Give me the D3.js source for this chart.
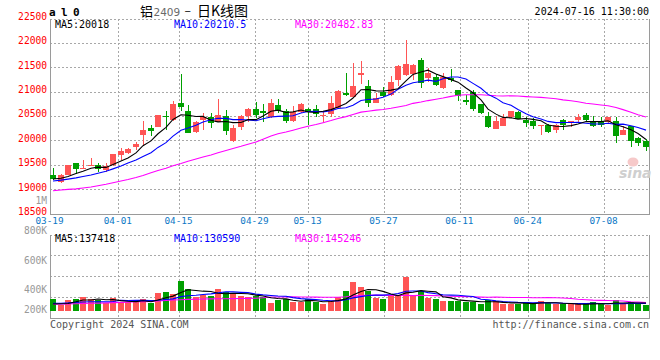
<!DOCTYPE html>
<html><head><meta charset="utf-8">
<script src="https://cdn.jsdelivr.net/npm/d3@7/dist/d3.min.js"></script>
<style>html,body{margin:0;padding:0;background:#fff;}svg{display:block;}</style>
</head><body>
<svg id="c" width="660" height="360"></svg>
<script>
// ---------------- data ----------------
const dates = ["03-19","03-20","03-21","03-22","03-25","03-26","03-27","03-28","03-29",
"04-01","04-02","04-03","04-08","04-09","04-10","04-11","04-12",
"04-15","04-16","04-17","04-18","04-19","04-22","04-23","04-24","04-25","04-26",
"04-29","04-30","05-06","05-07","05-08","05-09","05-10",
"05-13","05-14","05-15","05-16","05-17","05-20","05-21","05-22","05-23","05-24",
"05-27","05-28","05-29","05-30","05-31","06-03","06-04","06-05","06-06","06-07",
"06-11","06-12","06-13","06-14","06-17","06-18","06-19","06-20","06-21",
"06-24","06-25","06-26","06-27","06-28","07-01","07-02","07-03","07-04","07-05",
"07-08","07-09","07-10","07-11","07-12","07-15","07-16"];
const open  = [19290,19150,19300,19530,19430,19490,19495,19390,19493,19700,19735,19870,20110,20260,20280,20500,20418,20774,20605,20178,
20413,20488,20385,20495,19989,20283,20501,20645,20604,20488,20727,20604,20399,20590,20638,20645,20501,20535,20659,20973,
20884,21348,21116,20775,20986,20932,21239,21342,21355,21649,21287,21294,21082,21273,21034,20829,20986,20747,20501,20235,
20303,20474,20590,20419,20392,20296,20317,20221,20419,20351,20419,20529,20406,20406,20372,20406,20119,20303,20051,19982];
const high  = [19440,19320,19500,19535,19590,19640,19530,19530,19720,19837,19840,19972,20403,20315,20530,20603,20808,21370,20726,20400,
20556,20556,20850,20624,20317,20522,20672,20795,20747,20843,20843,20645,20706,20775,20672,20727,20604,20918,21034,21389,
21581,21628,21239,20966,21089,21321,21540,22059,21560,21697,21478,21355,21376,21464,21034,20932,21034,20747,20590,20501,
20542,20600,20600,20474,20460,20317,20337,20337,20440,20406,20542,20556,20508,20488,20488,20474,20303,20303,20078,20030];
const low   = [19185,19120,19290,19310,19405,19465,19360,19350,19480,19597,19720,19802,19905,20090,20270,20213,20397,20605,20144,20150,
20215,20262,20372,20106,19962,20215,20372,20453,20372,20454,20556,20351,20372,20556,20317,20488,20385,20488,20645,20918,
20863,21150,20693,20775,20898,20911,21116,21321,21239,21068,21205,21123,21055,21205,20816,20727,20604,20536,20262,20235,
20303,20460,20440,20283,20235,20119,20146,20146,20215,20269,20351,20406,20269,20269,20351,19941,20119,19873,19893,19777];
const close = [19200,19300,19493,19410,19440,19500,19410,19470,19712,19788,19820,19925,20213,20200,20520,20470,20745,20690,20157,20380,
20488,20351,20522,20194,20262,20501,20645,20522,20563,20761,20610,20399,20590,20747,20577,20549,20522,20761,21014,20932,
21116,21376,20775,20877,20918,21205,21526,21567,21546,21171,21389,21137,21294,21239,20911,20795,20645,20570,20283,20399,
20460,20600,20440,20351,20303,20317,20167,20317,20317,20392,20488,20419,20303,20324,20474,20090,20210,19990,19940,19860];
const volume = [211000,103000,193000,211000,247000,211000,186000,133000,229000,151000,151000,151000,216000,133000,319000,342000,301000,535000,385000,252000,
283000,265000,391000,337000,295000,259000,241000,270000,252000,139000,193000,211000,151000,162000,211000,162000,121000,175000,241000,360000,
517000,427000,355000,229000,211000,283000,270000,607000,283000,360000,230000,210000,175000,180000,180000,162000,162000,115000,190000,170000,
115000,115000,115000,160000,133000,170000,133000,115000,115000,115000,115000,118000,150000,130000,106000,190000,120000,155000,115000,107000];
// moving-average values before their window fills
const ma5Head  = [19208,19222,19260,19320];
const ma10Head = [19167,19185,19205,19230,19258,19290,19325,19365,19415];
const ma30Head = [18966,18982,18994,19005,19023,19044,19068,19099,19130,19167,19197,19238,19279,19335,19382,19429,19478,19526,19573,19618,
19659,19700,19745,19792,19833,19878,19921,19966,20025];
const volMa5Head  = [120000,125000,130000,160000];
const volMa10Head = [133000,135000,140000,150000,157000,160000,160000,162000,165000];
const volMa30Head = [115000,118000,122000,126000,130000,133000,136000,140000,145000,150000,155000,160000,164000,168000,175000,185000,193000,198000,203000,207000,
210000,212000,214000,216000,218000,220000,222000,225000,232000];

const priceTicks = [18500,19000,19500,20000,20500,21000,21500,22000,22500];
const tickDates = ["03-19","04-01","04-15","04-29","05-13","05-27","06-11","06-24","07-08"];
const volTicks = [1000000,800000,600000,400000,200000];
const volTickLabels = ["1M","800K","600K","400K","200K"];
const priceLegend = ["MA5:20018","MA10:20210.5","MA30:20482.83"];
const volLegend = ["MA5:137418","MA10:130590","MA30:145246"];
const maColors = ["#000000","#0000ff","#ff00ff"];
const titleCode = "a l 0";
const titleName = ["铝","2409","–","日K线图"];
const stamp = "2024-07-16 11:30:00";

// ---------------- layout ----------------
const L = 50, R = 649, PT = 18.5, PB = 213.5;
const VT = 234.5, VB = 317.5, VBASE = 310.7;
const UP = "#ff5555", DOWN = "#00a000", GRID = "#a8a8a8", AX = "#9a9a9a";
const MONO = "'DejaVu Sans Mono', monospace";

const svg = d3.select("#c");
const idx = d3.range(dates.length);

const x = d3.scaleBand().domain(dates).range([L, R]).paddingInner(0.2);
const gx = d3.scalePoint().domain(dates).range([L, 649.6]);
const y = d3.scaleLinear().domain([18500, 22500]).range([PB, PT]);
const vy = d3.scaleLinear().domain([0, 1000000]).range([VBASE, VBASE - 55.6]);
const vLabelY = d3.scaleLinear().domain([1000000, 400000]).range([200.7, 290]);

function movingAvg(vals, n, head) {
  return vals.map((v, i) => i < n - 1 ? head[i] : d3.mean(vals.slice(i - n + 1, i + 1)));
}
const px = v => Math.round(v) + 0.5;

// ---------------- header ----------------
svg.append("text").attr("x", 49).attr("y", 15.5)
  .attr("font-family", MONO).attr("font-size", 11).attr("font-weight", "bold")
  .attr("letter-spacing", -0.6).attr("fill", "#000").text(titleCode);
const tt = svg.append("g").attr("font-family", "'Noto Sans CJK SC', sans-serif").attr("fill", "#000");
tt.append("text").attr("x", 140).attr("y", 15.5).attr("font-size", 13).text(titleName[0]);
tt.append("text").attr("x", 153.5).attr("y", 15.5).attr("font-size", 10.5).attr("fill", "#6a6a6a")
  .attr("font-family", "'DejaVu Sans', sans-serif").text(titleName[1]);
tt.append("text").attr("x", 184.5).attr("y", 15).attr("font-size", 12).text(titleName[2]);
tt.append("text").attr("x", 197).attr("y", 15.5).attr("font-size", 14).text(titleName[3]);
svg.append("text").attr("x", 649).attr("y", 15).attr("text-anchor", "end")
  .attr("font-family", MONO).attr("font-size", 10).attr("fill", "#000").text(stamp);

// ---------------- price panel grid ----------------
const pg = svg.append("g").attr("shape-rendering", "crispEdges");
pg.selectAll("line.h").data(priceTicks.filter(t => t > 18500)).join("line")
  .attr("x1", L).attr("x2", R).attr("y1", d => px(y(d))).attr("y2", d => px(y(d)))
  .attr("stroke", GRID).attr("stroke-dasharray", "2,2");
pg.selectAll("line.v").data(tickDates.slice(1)).join("line")
  .attr("x1", d => px(gx(d))).attr("x2", d => px(gx(d))).attr("y1", PT).attr("y2", PB)
  .attr("stroke", GRID).attr("stroke-dasharray", "2,2");
pg.append("line").attr("x1", L + 0.5).attr("x2", L + 0.5).attr("y1", PT).attr("y2", PB + 0.5).attr("stroke", AX);
pg.append("line").attr("x1", R + 0.5).attr("x2", R + 0.5).attr("y1", PT).attr("y2", PB + 0.5).attr("stroke", AX);
pg.append("line").attr("x1", L).attr("x2", R + 1).attr("y1", px(PB)).attr("y2", px(PB)).attr("stroke", AX);

// watermark
const wm = svg.append("g");
wm.append("ellipse").attr("cx", 633).attr("cy", 162).attr("rx", 5.5).attr("ry", 4.5).attr("fill", "#f6c9c9");
wm.append("text").attr("x", 619).attr("y", 178).attr("font-family", "'DejaVu Sans', sans-serif")
  .attr("font-size", 14).attr("font-style", "italic").attr("font-weight", "bold").attr("fill", "#cfcfcf").text("sina");

// y axis labels (price)
const yAxis = svg.append("g").attr("transform", "translate(" + L + ",-2.2)")
  .call(d3.axisLeft(y).tickValues(priceTicks).tickSize(0).tickPadding(3).tickFormat(d3.format("d")));
yAxis.select(".domain").remove();
yAxis.selectAll("text").attr("fill", "#ff0000").attr("font-family", MONO).attr("font-size", 9.6);

// x axis labels
const xAxis = svg.append("g").attr("transform", "translate(-1," + (PB + 4) + ")")
  .call(d3.axisBottom(gx).tickValues(tickDates).tickSize(0).tickPadding(0));
xAxis.select(".domain").remove();
xAxis.selectAll("text").attr("fill", "#0b78c6").attr("font-family", MONO).attr("font-size", 9.4);

// ---------------- candles ----------------
const bw = Math.round(x.bandwidth());
const cg = svg.append("g").attr("shape-rendering", "crispEdges");
const candle = cg.selectAll("g").data(idx).join("g");
candle.append("rect")
  .attr("x", i => Math.round(x(dates[i])) + Math.floor(bw / 2))
  .attr("width", 1)
  .attr("y", i => Math.round(y(high[i])))
  .attr("height", i => Math.max(1, Math.round(y(low[i])) - Math.round(y(high[i]))))
  .attr("fill", i => close[i] >= open[i] ? UP : DOWN);
candle.append("rect")
  .attr("x", i => Math.round(x(dates[i])))
  .attr("width", bw)
  .attr("y", i => Math.round(y(Math.max(open[i], close[i]))))
  .attr("height", i => Math.max(1, Math.round(y(Math.min(open[i], close[i]))) - Math.round(y(Math.max(open[i], close[i])))))
  .attr("fill", i => close[i] >= open[i] ? UP : DOWN);

// price MA lines
const pMAs = [movingAvg(close, 5, ma5Head), movingAvg(close, 10, ma10Head), movingAvg(close, 30, ma30Head)];
const cx = i => Math.round(x(dates[i])) + bw / 2;
const pline = d3.line().x((d, i) => cx(i)).y(d => y(d));
svg.append("g").selectAll("path").data([pMAs[2], pMAs[1], pMAs[0]]).join("path")
  .attr("d", pline).attr("fill", "none")
  .attr("stroke", (d, k) => maColors[2 - k]).attr("stroke-width", 1.1);

// legend row (price)
const legX = [55, 174, 295];
svg.append("g").selectAll("text").data(priceLegend).join("text")
  .attr("x", (d, k) => legX[k]).attr("y", 27.5)
  .attr("font-family", MONO).attr("font-size", 10).attr("fill", (d, k) => maColors[k]).text(d => d);

// ---------------- volume panel ----------------
const vg = svg.append("g").attr("shape-rendering", "crispEdges");
const vGridYs = d3.range(4).map(k => VT + k * (VB - VT) / 4);
vg.selectAll("line.h").data(vGridYs).join("line")
  .attr("x1", L).attr("x2", R).attr("y1", d => px(d)).attr("y2", d => px(d))
  .attr("stroke", GRID).attr("stroke-dasharray", "2,2");
vg.selectAll("line.v").data(tickDates.slice(1)).join("line")
  .attr("x1", d => px(gx(d))).attr("x2", d => px(gx(d))).attr("y1", VT).attr("y2", VB)
  .attr("stroke", GRID).attr("stroke-dasharray", "2,2");
vg.append("line").attr("x1", L + 0.5).attr("x2", L + 0.5).attr("y1", VT).attr("y2", VB + 0.5).attr("stroke", AX);
vg.append("line").attr("x1", R + 0.5).attr("x2", R + 0.5).attr("y1", VT).attr("y2", VB + 0.5).attr("stroke", AX);
vg.append("line").attr("x1", L).attr("x2", R + 1).attr("y1", px(VB)).attr("y2", px(VB)).attr("stroke", AX);

vg.selectAll("rect").data(idx).join("rect")
  .attr("x", i => Math.round(x(dates[i])))
  .attr("width", bw)
  .attr("y", i => Math.round(vy(volume[i])))
  .attr("height", i => Math.round(VBASE) - Math.round(vy(volume[i])))
  .attr("fill", i => close[i] >= open[i] ? UP : DOWN);

const vMAs = [movingAvg(volume, 5, volMa5Head), movingAvg(volume, 10, volMa10Head), movingAvg(volume, 30, volMa30Head)];
const vline = d3.line().x((d, i) => cx(i)).y(d => vy(d));
svg.append("g").selectAll("path").data([vMAs[2], vMAs[1], vMAs[0]]).join("path")
  .attr("d", vline).attr("fill", "none")
  .attr("stroke", (d, k) => maColors[2 - k]).attr("stroke-width", 1.1);

svg.append("g").selectAll("text").data(volLegend).join("text")
  .attr("x", (d, k) => legX[k]).attr("y", 241.5)
  .attr("font-family", MONO).attr("font-size", 10).attr("fill", (d, k) => maColors[k]).text(d => d);

// volume axis labels
svg.append("g").selectAll("text").data(volTicks).join("text")
  .attr("x", 47).attr("y", v => Math.min(vLabelY(v), VB - 8.2)).attr("dy", "0.35em")
  .attr("text-anchor", "end").attr("font-family", MONO).attr("font-size", 9.6).attr("fill", "#999")
  .text((v, k) => volTickLabels[k]);

// footer
svg.append("text").attr("x", 50).attr("y", 327.5).attr("font-family", MONO).attr("font-size", 10)
  .attr("fill", "#555").text("Copyright 2024 SINA.COM");
svg.append("text").attr("x", 649).attr("y", 327.5).attr("text-anchor", "end").attr("font-family", MONO)
  .attr("font-size", 10).attr("fill", "#555").text("http://finance.sina.com.cn");
</script>
</body></html>
